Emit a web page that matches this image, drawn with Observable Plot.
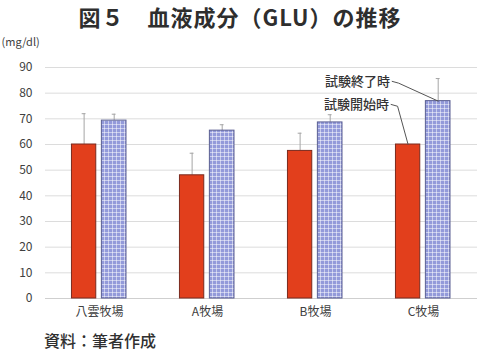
<!DOCTYPE html>
<html>
<head>
<meta charset="utf-8">
<script src="https://cdn.jsdelivr.net/npm/d3@7"></script>
<script src="https://cdn.jsdelivr.net/npm/@observablehq/plot@0.6"></script>
<style>
  html, body { margin: 0; padding: 0; background: #fff; }
  body { width: 480px; height: 354px; overflow: hidden; font-family: "Noto Sans CJK JP", "Noto Sans", sans-serif; }
  #title { height: 32px; line-height: 32px; text-align: center; font-size: 22px; font-weight: 700; color: #2e2e2e; letter-spacing: 1px; }
  #caption { height: 28px; line-height: 28px; padding-left: 44px; font-size: 16px; color: #303030; font-weight: 500; }
  svg { display: block; }
</style>
</head>
<body>
<div id="title">図５　血液成分（GLU）の推移</div>
<div id="chart"></div>
<div id="caption">資料：筆者作成</div>
<script>
// ---- data ----
const categories = ["八雲牧場", "A牧場", "B牧場", "C牧場"];
const startValues = [60, 48, 57.5, 60];        // 試験開始時
const startErrors = [12, 8.6, 6.9, null];      // upper error (SD)
const endValues = [69.3, 65.4, 68.6, 76.9];    // 試験終了時
const endErrors = [2.5, 2.3, 3.0, 8.8];
const yTicks = [0, 10, 20, 30, 40, 50, 60, 70, 80, 90];
const unitLabel = "(mg/dl)";
const seriesNames = ["試験開始時", "試験終了時"];

// ---- build table ----
const barOffsets = [[-0.255, -0.03], [0.022, 0.25]];
const rows = [];
categories.forEach((c, i) => {
  [startValues, endValues].forEach((vals, s) => {
    const errs = s === 0 ? startErrors : endErrors;
    const x1 = i + barOffsets[s][0], x2 = i + barOffsets[s][1];
    rows.push({cat: c, i, s, x1, x2, xc: (x1 + x2) / 2, v: vals[i], e: errs[i]});
  });
});
const errRows = rows.filter(d => d.e != null);

// annotations on C牧場 (index 3)
const lastStart = rows.find(d => d.i === 3 && d.s === 0);
const lastEnd = rows.find(d => d.i === 3 && d.s === 1);
const notes = [
  {label: seriesNames[1], tx: 2.69, ty: 84.6, target: lastEnd, tfx: 0.5},
  {label: seriesNames[0], tx: 2.68, ty: 75.6, target: lastStart, tfx: 0.5}
];
const leaderPts = [];
notes.forEach((n, k) => {
  leaderPts.push({k, x: n.tx + 0.02, y: n.ty});
  leaderPts.push({k, x: n.tx + 0.08, y: n.ty - 0.7});
  leaderPts.push({k, x: n.target.x1 + (n.target.x2 - n.target.x1) * n.tfx, y: n.target.v});
});

const W = 480, H = 294;
const plot = Plot.plot({
  width: W,
  height: H,
  marginLeft: 45,
  marginRight: 3,
  marginTop: 35,
  marginBottom: 28,
  style: {fontFamily: "'Noto Sans CJK JP', 'Noto Sans', sans-serif", fontSize: "12px", color: "#404040", background: "transparent"},
  x: {domain: [-0.5, 3.5], axis: null},
  y: {domain: [0, 90], axis: null},
  marks: [
    Plot.ruleY(yTicks.filter(t => t > 0), {stroke: "#dcdcdc", strokeWidth: 1}),
    Plot.ruleY([0], {stroke: "#cfcfcf", strokeWidth: 1}),
    Plot.axisY(yTicks, {tickSize: 0, tickPadding: 13, label: null, fontSize: 12, fill: "#404040"}),
    Plot.axisX([0, 1, 2, 3], {tickSize: 0, tickPadding: 9, label: null, tickFormat: i => categories[i], fontSize: 12, fill: "#404040"}),
    Plot.text([unitLabel], {frameAnchor: "top-left", dx: -44, dy: -29, textAnchor: "start", fontSize: 11, fill: "#404040"}),
    Plot.ruleX(errRows, {x: "xc", y1: "v", y2: d => d.v + d.e, stroke: "#a6a6a6", strokeWidth: 1}),
    Plot.ruleY(errRows, {y: d => d.v + d.e, x1: d => d.xc - 0.018, x2: d => d.xc + 0.018, stroke: "#a6a6a6", strokeWidth: 1}),
    Plot.rect(rows, {
      x1: "x1", x2: "x2", y1: 0, y2: "v",
      fill: d => d.s === 0 ? "#e23f1c" : "url(#chk)",
      stroke: d => d.s === 0 ? "#7a2a1e" : "#5a5f92",
      strokeWidth: 1
    }),
    Plot.line(leaderPts, {x: "x", y: "y", z: "k", stroke: "#555", strokeWidth: 1}),
    Plot.text(notes, {x: "tx", y: "ty", text: "label", textAnchor: "end", fontSize: 13, fill: "#333", fontWeight: 500})
  ]
});

// checkered pattern for 試験終了時 bars
const defs = document.createElementNS("http://www.w3.org/2000/svg", "defs");
defs.innerHTML = `<pattern id="chk" patternUnits="userSpaceOnUse" width="4" height="4">
  <rect width="4" height="4" fill="#939ada"/>
  <rect x="0" y="0" width="4" height="1" fill="#ffffff" fill-opacity="0.5"/>
  <rect x="0" y="0" width="1" height="4" fill="#ffffff" fill-opacity="0.5"/>
</pattern>`;
plot.insertBefore(defs, plot.firstChild);
document.getElementById("chart").appendChild(plot);
</script>
</body>
</html>
